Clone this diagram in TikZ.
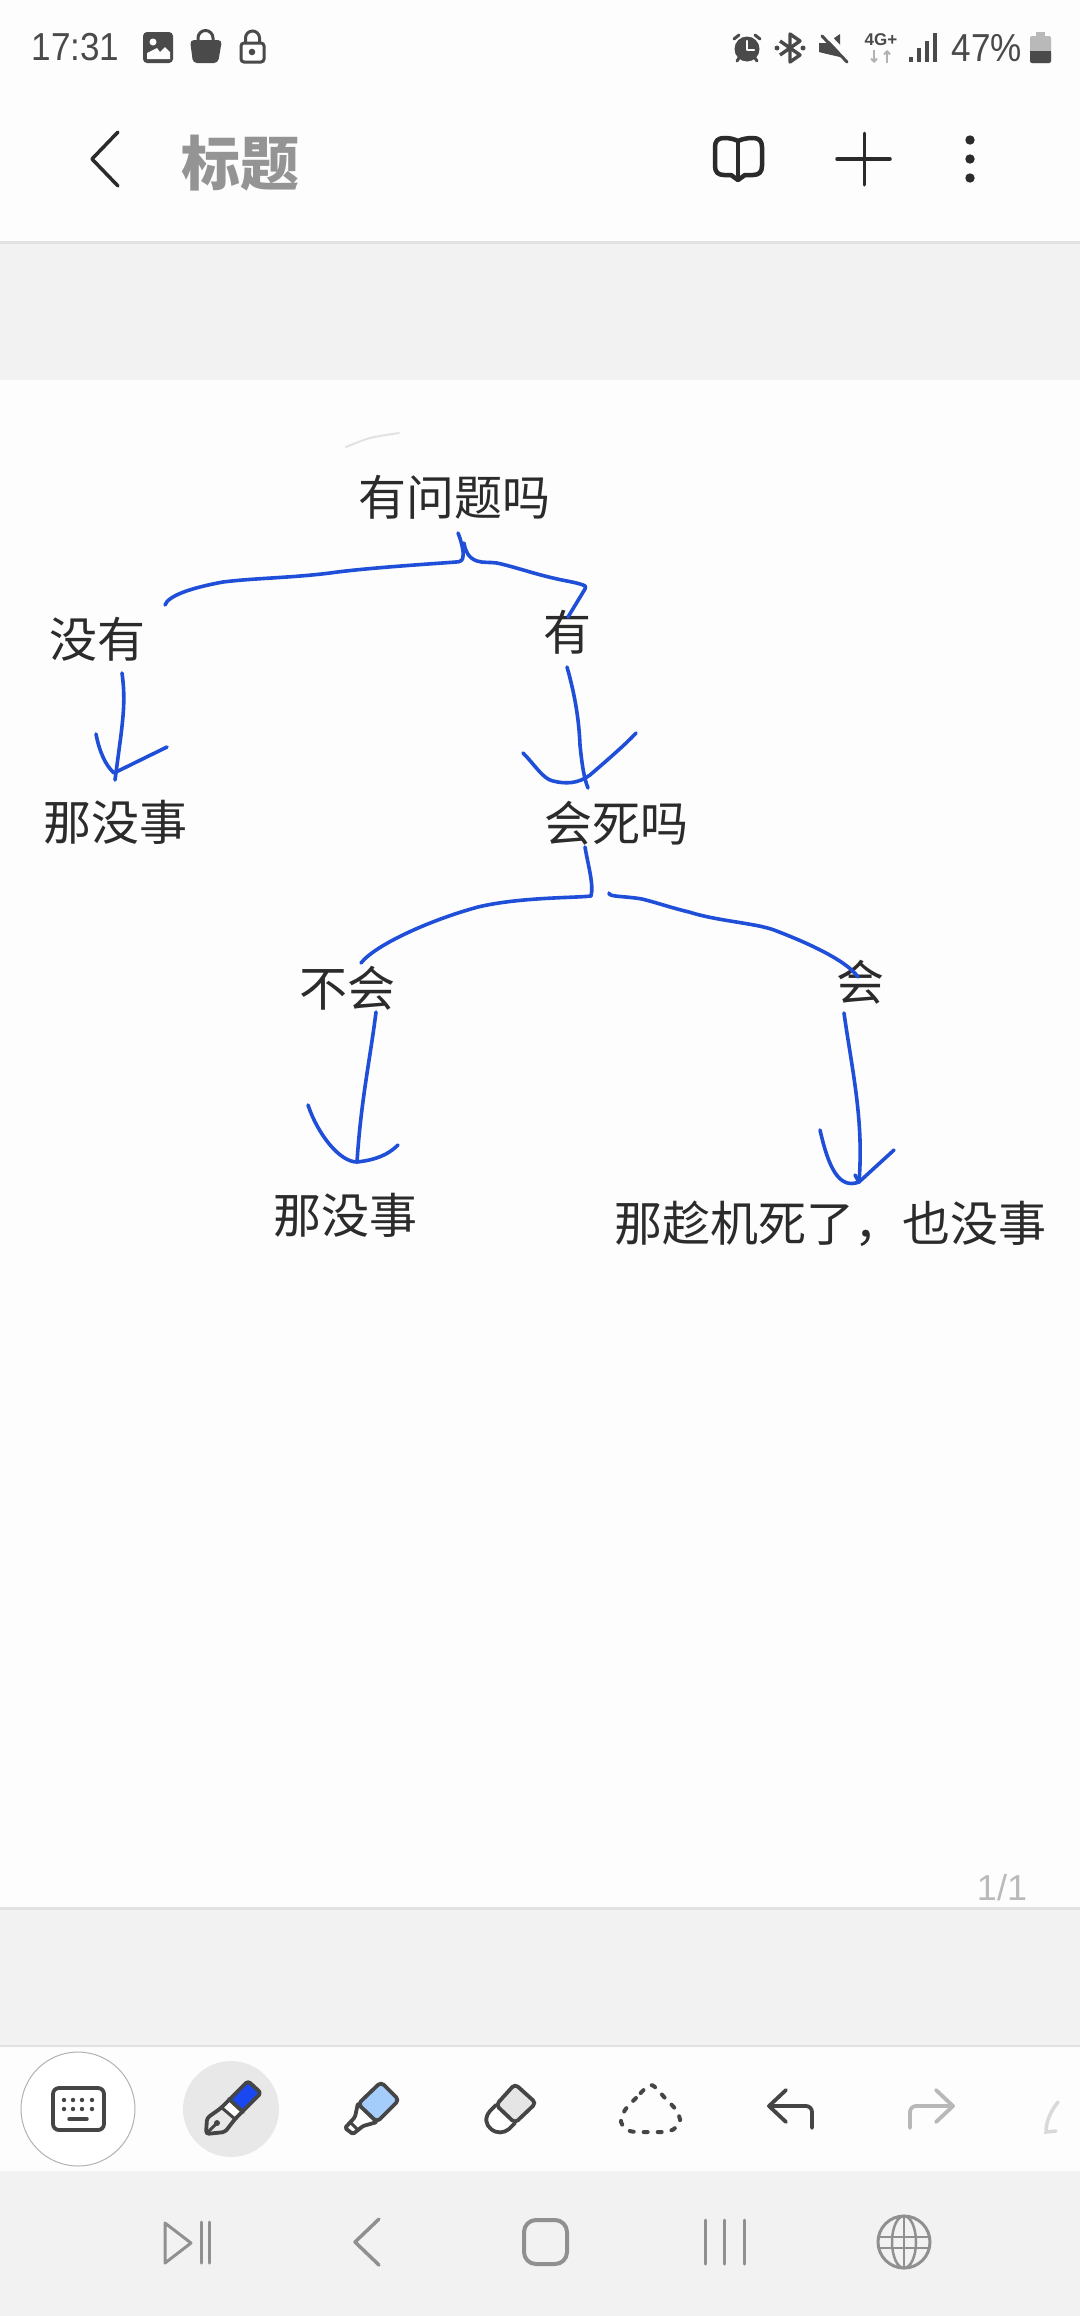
\documentclass[tikz,border=0pt]{standalone}
\usetikzlibrary{arrows.meta}
\usepackage{fontspec}
\setmainfont{Liberation Sans}
\newfontfamily\statfont[FakeStretch=0.9]{Liberation Sans}
\newfontfamily\cjk{Noto Sans CJK SC}
\definecolor{canvas}{HTML}{FDFDFD}
\definecolor{band}{HTML}{F2F2F2}
\definecolor{edge}{HTML}{E2E2E2}
\definecolor{ink}{HTML}{2B2B2B}
\definecolor{inkblue}{HTML}{1F4FD8}
\definecolor{stat}{HTML}{4A4A4A}
\definecolor{tool}{HTML}{454545}
\definecolor{navgray}{HTML}{909090}
\definecolor{hilite}{HTML}{A5CDFB}
\definecolor{penblue}{HTML}{1A48F0}
\tikzset{
  x=1pt,y=-1pt,
  label text/.style={inner sep=0pt,text=ink,font=\cjk\fontsize{48}{48}\selectfont},
  pen stroke/.style={draw=inkblue,line width=3.6pt,line cap=round,line join=round},
  nav icon/.style={draw=navgray,line width=3pt,line cap=round,line join=round},
  tool icon/.style={draw=tool,line width=3.8pt,line cap=round,line join=round},
}
\begin{document}
\begin{tikzpicture}
\useasboundingbox (0,0) rectangle (1080,2316);
% --- background bands
\fill[band] (0,0) rectangle (1080,2316);
\fill[canvas] (0,0) rectangle (1080,241);
\fill[edge] (0,241) rectangle (1080,244);
\fill[canvas] (0,380) rectangle (1080,1907);
\fill[edge] (0,1907) rectangle (1080,1910);
\fill[edge] (0,2045) rectangle (1080,2047);
\fill[canvas] (0,2047) rectangle (1080,2171);

% --- status bar
\node[inner sep=0pt,text=stat,font=\statfont\fontsize{39}{39}\selectfont] (clock) at (75.5,47) {17:31};
% image
\fill[stat,rounded corners=4pt] (143,32) rectangle (173,63);
\fill[canvas] (147,59) -- (147,53) -- (157,48) -- (160,52) -- (165,47) -- (170,52) -- (170,59) -- cycle;
\fill[canvas] (153,42) circle (3.5);
% bag
\fill[stat,rounded corners=4pt] (190,40) -- (222,40) -- (218,63) -- (193,63) -- cycle;
\draw[stat,line width=3pt] (198,42) -- (198,38) arc[start angle=180,end angle=360,radius=7.5] -- (213,42);
% lock
\draw[stat,line width=3pt,rounded corners=3pt] (241,43) rectangle (264,62);
\draw[stat,line width=3pt] (245.5,43) -- (245.5,38) arc[start angle=180,end angle=360,radius=7] -- (259.5,43);
\fill[stat] (252,52) circle (3.3);
% alarm
\fill[stat] (747,49) circle (12.5);
\draw[stat,line width=3pt,line cap=round] (734,39) -- (739,35);
\draw[stat,line width=3pt,line cap=round] (760,39) -- (755,35);
\draw[stat,line width=3pt,line cap=round] (737,61) -- (739,58);
\draw[stat,line width=3pt,line cap=round] (757,61) -- (755,58);
\draw[canvas,line width=2.2pt,line cap=round,line join=round] (747,41) -- (747,50) -- (754,50);
% bluetooth
\draw[stat,line width=3.4pt,line join=round] (780,41) -- (800,55) -- (790,62) -- (790,34) -- (800,41) -- (780,55);
\fill[stat] (777,48) circle (2.5);
\fill[stat] (803,48) circle (2.5);
% mute
\fill[stat] (819,43) -- (827,43) -- (840,34) -- (840,57) -- (827,54) -- (819,52) -- cycle;
\draw[canvas,line width=5pt] (825,33) -- (853,62);
\draw[stat,line width=3pt,line cap=round] (822,36) -- (847,62);
% 4G+
\node[inner sep=0pt,text=stat,font=\bfseries\fontsize{17}{17}\selectfont] (fourg) at (881,40) {4G+};
\draw[gray!60,line width=2pt,-{Straight Barb[length=3pt,width=6pt]}] (874,50) -- (874,63);
\draw[gray!60,line width=2pt,-{Straight Barb[length=3pt,width=6pt]}] (887,63) -- (887,50);
% signal
\foreach \bx/\by in {911/57,919/48,927/41,935/33}{
  \fill[stat] (\bx-1.6,\by) rectangle (\bx+1.6,62);
}
\node[inner sep=0pt,text=stat,font=\statfont\fontsize{39}{39}\selectfont] (battpct) at (987,48.5) {47\%};
% battery
\fill[gray!55,rounded corners=2pt] (1030,36) rectangle (1051,63);
\fill[gray!55] (1036,32) rectangle (1045,38);
\fill[stat,rounded corners=2pt] (1030,51) rectangle (1051,63);
\fill[stat] (1030,51) rectangle (1051,56);

% --- header
\draw[draw=ink,line width=3.5pt,line cap=round,line join=round] (118,132) -- (92,159) -- (118,186);
\node[inner sep=0pt,font=\cjk\bfseries\fontsize{59}{59}\selectfont,text=black!42] (title) at (240,163) {标题};
% book
\draw[draw=ink,line width=4.5pt,line join=round] (738,141) .. controls (734,139) and (730,138) .. (724,138)
  .. controls (718,138) and (715,141) .. (715,147) -- (715,166) .. controls (715,172) and (718,175) .. (724,175)
  -- (731,175) -- (738,180) -- (745,175) -- (753,175) .. controls (759,175) and (762,172) .. (762,166)
  -- (762,147) .. controls (762,141) and (759,138) .. (753,138) .. controls (747,138) and (742,139) .. (738,141) -- cycle;
\draw[draw=ink,line width=4pt] (738,141) -- (738,180);
% plus, dots
\draw[draw=ink,line width=3.5pt,line cap=round] (837,159) -- (890,159);
\draw[draw=ink,line width=3pt,line cap=round] (864,133) -- (864,185);
\foreach \dy in {140,159,178}{ \fill[ink] (970,\dy) circle (4.7); }

% --- handwritten labels
\node[label text] (q1) at (454,497) {有问题吗};
\node[label text] (no1) at (97,639) {没有};
\node[label text] (yes1) at (567,632) {有};
\node[label text] (fine1) at (115,822) {那没事};
\node[label text] (q2) at (616,823) {会死吗};
\node[label text] (no2) at (347,988) {不会};
\node[label text] (yes2) at (860,982) {会};
\node[label text] (fine2) at (345,1215) {那没事};
\node[label text] (fine3) at (830,1224) {那趁机死了，也没事};

% stray stroke
\draw[draw=edge,line width=2pt,line cap=round] plot[smooth] coordinates {(346,447) (370,438) (399,433)};

% --- connector anchors
\coordinate (q1out) at (458,533);
\coordinate (q1outb) at (464,543);
\coordinate (no1in) at (165,605);
\coordinate (yes1in) at (568,617);
\coordinate (no1out) at (122,673);
\coordinate (fine1in) at (115,780);
\coordinate (yes1out) at (567,667);
\coordinate (q2in) at (588,788);
\coordinate (q2out) at (585,847);
\coordinate (q2outb) at (609,893);
\coordinate (no2in) at (361,963);
\coordinate (yes2in) at (858,977);
\coordinate (no2out) at (376,1012);
\coordinate (fine2in) at (357,1162);
\coordinate (yes2out) at (844,1013);
\coordinate (fine3in) at (859,1182);

% --- first brace
\draw[pen stroke] (q1out) .. controls (461,540) and (464,552) .. (463,556)
  .. controls (463,560) and (461,562) .. (456,562)
  .. controls (430,564) and (365,568) .. (330,573)
  .. controls (290,578) and (255,578) .. (223,582)
  .. controls (190,588) and (168,596) .. (no1in);
\draw[pen stroke] (q1outb) .. controls (465,550) and (468,558) .. (477,561)
  .. controls (483,563) and (490,562) .. (497,563)
  .. controls (515,567) and (535,574) .. (553,578)
  .. controls (565,581) and (575,582) .. (583,585)
  .. controls (586,586) and (586,587) .. (585,589)
  -- (yes1in);
% --- arrow no -> fine
\draw[pen stroke] (no1out) .. controls (125,695) and (124,710) .. (121,735) -- (fine1in);
\draw[pen stroke] (96,734) .. controls (99,750) and (105,765) .. (114,773) -- (167,747);
% --- arrow yes -> q2
\draw[pen stroke] (yes1out) .. controls (575,695) and (579,720) .. (580,745) .. controls (582,765) and (584,778) .. (q2in);
\draw[pen stroke] (523,753) .. controls (535,765) and (543,779) .. (553,781)
  .. controls (565,784) and (578,784) .. (590,775) .. controls (605,762) and (625,745) .. (636,733);
% --- second brace
\draw[pen stroke] (q2out) .. controls (588,865) and (594,885) .. (591,896)
  .. controls (575,898) and (520,897) .. (478,907)
  .. controls (430,920) and (375,945) .. (no2in);
\draw[pen stroke] (q2outb) .. controls (608,897) and (625,896) .. (642,899)
  .. controls (658,903) and (672,908) .. (689,912)
  .. controls (717,921) and (755,923) .. (774,930)
  .. controls (795,938) and (845,958) .. (yes2in);
% --- arrow no -> fine
\draw[pen stroke] (no2out) .. controls (370,1060) and (361,1100) .. (fine2in);
\draw[pen stroke] (308,1105) .. controls (318,1135) and (340,1162) .. (fine2in)
  .. controls (375,1160) and (388,1155) .. (398,1145);
% --- arrow yes -> fine
\draw[pen stroke] (yes2out) .. controls (852,1070) and (864,1120) .. (fine3in);
\draw[pen stroke] (820,1130) .. controls (828,1165) and (838,1190) .. (fine3in) -- (894,1150);
\draw[pen stroke] (855,1175) -- (fine3in);

% --- page number
\node[inner sep=0pt,text=black!27,font=\fontsize{36}{36}\selectfont] (pagenum) at (1002,1888) {1/1};

% --- toolbar
\draw[draw=black!30,fill=white,line width=1pt] (78,2109) circle (57);
\draw[tool icon,rounded corners=6pt] (53,2088) rectangle (104,2130);
\foreach \kx in {64,73,82,92}{
  \fill[tool] (\kx,2100) circle (2.2);
  \fill[tool] (\kx,2109) circle (2.2);
}
\draw[tool,line width=3.5pt,line cap=round] (69,2119) -- (87,2119);
\fill[black!9] (231,2109) circle (48);
% pen
\fill[white] (222,2107) -- (229,2100) -- (243,2112) -- (235,2119) -- cycle;
\fill[penblue] (229,2098) -- (247,2081) -- (260,2093) -- (243,2112) -- cycle;
\draw[tool icon,rounded corners=3pt] (207,2118) -- (221,2108) -- (248,2081) -- (261,2093) -- (235,2119) -- (225,2132) -- (206,2134) -- cycle;
\draw[tool icon] (229,2099) -- (243,2112);
\draw[tool icon,line width=3pt] (221,2107) -- (235,2119);
\draw[tool icon,line width=3pt] (207,2133) -- (217,2123);
\fill[tool] (217,2123) circle (3);
% highlighter
\draw[tool icon,fill=white,rounded corners=1.5pt] (358,2103) -- (355,2117) -- (345,2128) -- (353,2134) -- (363,2126) -- (377,2122) -- cycle;
\draw[tool icon,line width=3pt] (350,2122) -- (358,2130);
\draw[tool icon,fill=hilite,rounded corners=4pt] (381,2082) -- (399,2100) -- (377,2122) -- (358,2104) -- cycle;
% eraser
\draw[tool icon,fill=white] (496,2105) -- (490,2111) .. controls (484,2118) and (486,2125) .. (491,2129) .. controls (497,2134) and (504,2133) .. (509,2129) -- (515,2123);
\draw[tool icon,fill=black!10,rounded corners=4pt] (515,2084) -- (536,2103) -- (515,2123) -- (496,2105) -- cycle;
% lasso
\draw[tool icon,line width=4pt,dash pattern=on 4pt off 10pt] plot[smooth cycle] coordinates {(651,2085) (636,2098) (625,2110) (621,2122) (630,2131) (650,2132) (670,2131) (680,2122) (676,2110) (665,2098)};
% undo, redo
\draw[tool icon] (786,2090) -- (769,2106) -- (786,2122);
\draw[tool icon,rounded corners=6pt] (769,2106) -- (812,2106) -- (812,2128);
\draw[tool icon,draw=black!28] (936,2090) -- (953,2106) -- (936,2122);
\draw[tool icon,draw=black!28,rounded corners=6pt] (953,2106) -- (910,2106) -- (910,2128);
\draw[draw=black!15,line width=3.5pt,line cap=round] (1058,2102) .. controls (1050,2112) and (1046,2122) .. (1046,2132) -- (1056,2131);

% --- nav bar
\draw[nav icon] (165,2223) -- (191,2243) -- (165,2263) -- cycle;
\draw[nav icon] (201,2222) -- (201,2263);
\draw[nav icon] (209,2222) -- (209,2263);
\draw[nav icon,line width=3.5pt] (379,2219) -- (355,2242) -- (379,2265);
\draw[nav icon,line width=4pt,rounded corners=12pt] (524,2220) rectangle (567,2264);
\draw[nav icon] (705,2220) -- (705,2264);
\draw[nav icon] (724,2220) -- (724,2264);
\draw[nav icon] (744,2220) -- (744,2264);
\draw[nav icon] (904,2242) circle (26);
\draw[nav icon,line width=2.5pt] (904,2242) ellipse [x radius=12,y radius=26];
\draw[nav icon,line width=2.5pt] (904,2216) -- (904,2268);
\draw[nav icon,line width=2.5pt] (879,2237) -- (929,2237);
\draw[nav icon,line width=2.5pt] (879,2248) -- (929,2248);
\end{tikzpicture}
\end{document}
